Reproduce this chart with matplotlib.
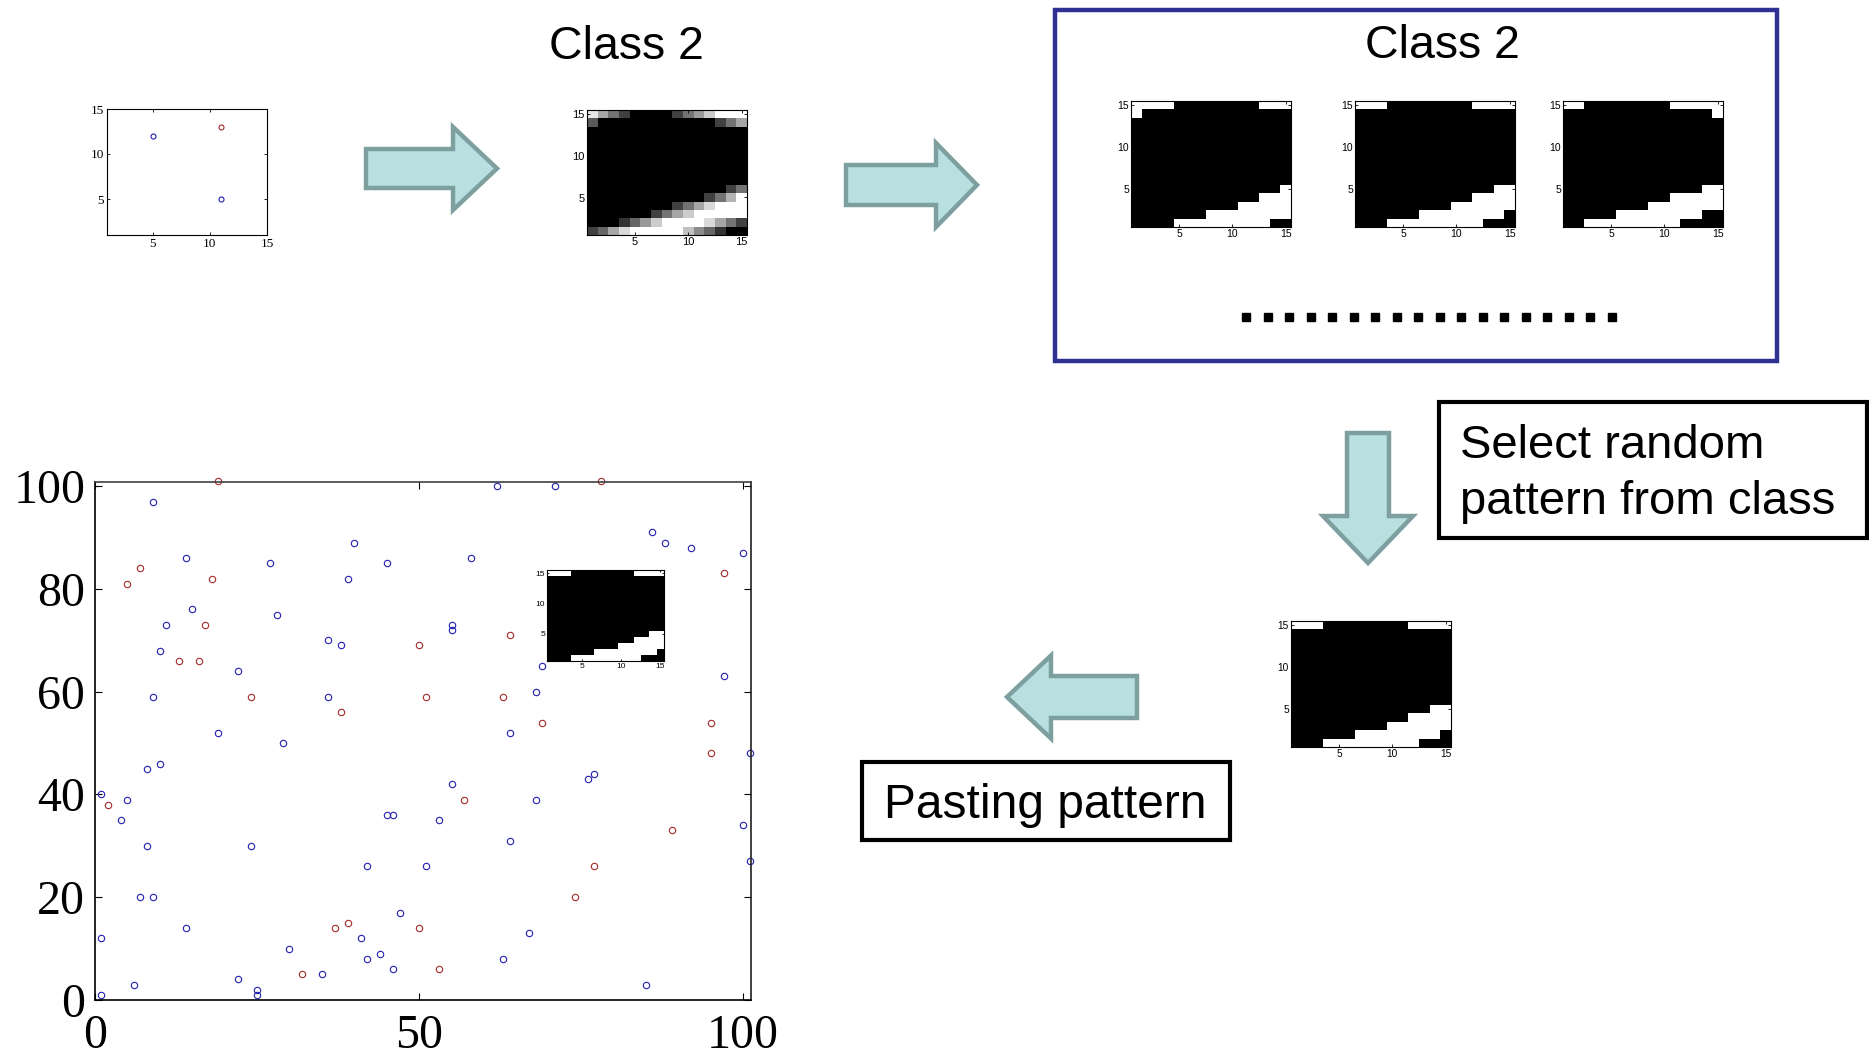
import numpy as np
import matplotlib
matplotlib.use("Agg")
import matplotlib.pyplot as plt
from matplotlib.patches import FancyArrow, Rectangle

W, H = 1869, 1056

# ---------------- data ----------------
# seed points for the small 15x15 grid
seed_blue_x = [5, 11]
seed_blue_y = [12, 5]
seed_red_x = [11]
seed_red_y = [13]

# points of the 100x100 canvas
blue_x = [9, 40, 14, 27, 45, 39, 15, 28, 11, 36, 38, 10, 22, 9, 36, 19, 29, 10, 8,
          62, 71, 86, 88, 92, 100, 58, 55, 55, 69, 97, 68, 64, 101,
          1, 5, 4, 8, 24, 45, 46, 42, 7, 9, 1, 14, 47, 41, 30, 44, 42, 46, 35, 22, 6, 1, 25, 25,
          76, 77, 55, 68, 53, 100, 64, 51, 101, 67, 63, 85]
blue_y = [97, 89, 86, 85, 85, 82, 76, 75, 73, 70, 69, 68, 64, 59, 59, 52, 50, 46, 45,
          100, 100, 91, 89, 88, 87, 86, 73, 72, 65, 63, 60, 52, 48,
          40, 39, 35, 30, 30, 36, 36, 26, 20, 20, 12, 14, 17, 12, 10, 9, 8, 6, 5, 4, 3, 1, 2, 1,
          43, 44, 42, 39, 35, 34, 31, 26, 27, 13, 8, 3]
red_x = [19, 7, 5, 18, 17, 13, 16, 24, 38,
         78, 97, 64, 50, 51, 63, 69, 95, 95,
         2, 37, 39, 32,
         57, 89, 77, 74, 50, 53]
red_y = [101, 84, 81, 82, 73, 66, 66, 59, 56,
         101, 83, 71, 69, 59, 59, 54, 54, 48,
         38, 14, 15, 5,
         39, 33, 26, 20, 14, 6]

grid_ticks = [5, 10, 15]
canvas_xticks = [0, 50, 100]
canvas_yticks = [0, 20, 40, 60, 80, 100]

# averaged class pattern (rows listed top to bottom)
class_mean = [
    [0.9, 0.65, 0.45, 0.25, 0, 0, 0, 0, 0.25, 0.45, 0.6, 0.8, 1, 1, 1],
    [0.35, 0, 0, 0, 0, 0, 0, 0, 0, 0, 0, 0, 0.25, 0.45, 0.65],
    [0] * 15, [0] * 15, [0] * 15, [0] * 15, [0] * 15, [0] * 15, [0] * 15,
    [0, 0, 0, 0, 0, 0, 0, 0, 0, 0, 0, 0, 0, 0.25, 0.45],
    [0, 0, 0, 0, 0, 0, 0, 0, 0, 0, 0, 0.25, 0.45, 0.7, 1],
    [0, 0, 0, 0, 0, 0, 0, 0, 0.25, 0.45, 0.65, 0.85, 1, 1, 1],
    [0, 0, 0, 0, 0, 0, 0.25, 0.45, 0.65, 0.8, 1, 1, 1, 1, 1],
    [0, 0, 0, 0.2, 0.4, 0.6, 0.8, 1, 1, 1, 1, 0.85, 0.65, 0.45, 0.25],
    [0.25, 0.4, 0.65, 0.85, 1, 1, 1, 1, 1, 0.75, 0.55, 0.4, 0.2, 0, 0],
]

# binary member patterns of the class (rows listed top to bottom)
pattern_a = ["111100000000111", "100000000000000"] + ["0" * 15] * 8 + [
    "000000000000001", "000000000000111", "000000000011111",
    "000000011111111", "000011111111100"]
pattern_b = ["111000000001111"] + ["0" * 15] * 9 + [
    "000000000000011", "000000000001111", "000000000111111",
    "000000111111110", "000111111111000"]
pattern_c = ["110000000011111", "000000000000001"] + ["0" * 15] * 8 + [
    "000000000000011", "000000000011111", "000000001111111",
    "000001111111100", "001111111110000"]


def to_img(rows):
    return np.array([[float(c) for c in r] for r in rows])


# ---------------- figure ----------------
fig = plt.figure(figsize=(W / 100, H / 100), dpi=100)
fig.patch.set_facecolor("white")


def px_axes(l, t, r, b):
    return fig.add_axes([l / W, 1 - b / H, (r - l) / W, (b - t) / H])


SANS = "Liberation Sans"
SERIF = "Liberation Serif"

# overlay for arrows, boxes and captions (pixel coordinates)
ov = fig.add_axes([0, 0, 1, 1])
ov.set_xlim(0, W)
ov.set_ylim(H, 0)
ov.axis("off")

arrow_fc = "#b8e0e1"
arrow_ec = "#7d9fa0"
arrow_kw = dict(length_includes_head=True, fc=arrow_fc, ec=arrow_ec, lw=3.2,
                joinstyle="miter")
ov.add_patch(FancyArrow(366, 168.5, 131, 0, width=39, head_width=83,
                        head_length=44, **arrow_kw))
ov.add_patch(FancyArrow(846, 185, 131, 0, width=40, head_width=84,
                        head_length=41, **arrow_kw))
ov.add_patch(FancyArrow(1368, 433, 0, 130, width=42, head_width=90,
                        head_length=47, **arrow_kw))
ov.add_patch(FancyArrow(1137, 697, -130, 0, width=42, head_width=83,
                        head_length=44, **arrow_kw))

# class box
ov.add_patch(Rectangle((1055, 9.5), 722, 351.5, fill=False, ec="#2e3192", lw=3.2))
ov.text(1442, 46, "Class 2", fontsize=33.5, family=SANS, ha="center", va="center")
ov.text(626, 47, "Class 2", fontsize=33.5, family=SANS, ha="center", va="center")
ov.plot(np.linspace(1246, 1612, 18), np.full(18, 317), ls="none", marker="s",
        ms=5.2, mfc="black", mec="black")

# caption boxes
ov.add_patch(Rectangle((1439, 402), 428, 136, fill=False, ec="black", lw=3))
ov.text(1460, 474, "Select random\npattern from class", fontsize=34, family=SANS,
        ha="left", va="center", linespacing=1.33)
ov.add_patch(Rectangle((862, 762), 368, 78, fill=False, ec="black", lw=3))
ov.text(1045, 805, "Pasting pattern", fontsize=34.5, family=SANS,
        ha="center", va="center")


def image_axes(box, img, fs, tick_len=2.0):
    ax = px_axes(*box)
    ax.imshow(img, cmap="gray", vmin=0, vmax=1, origin="upper",
              extent=(0.5, 15.5, 0.5, 15.5), interpolation="nearest", aspect="auto")
    ax.set_xlim(0.5, 15.5)
    ax.set_ylim(0.5, 15.5)
    ax.set_xticks(grid_ticks)
    ax.set_yticks(grid_ticks)
    ax.tick_params(direction="in", length=tick_len, width=0.6, labelsize=fs,
                   top=True, right=True, pad=1.5)
    for lab in ax.get_xticklabels() + ax.get_yticklabels():
        lab.set_family(SANS)
    for s in ax.spines.values():
        s.set_linewidth(0.8)
    return ax


# small seed scatter
ax0 = px_axes(107, 109, 267, 235)
ax0.plot(seed_blue_x, seed_blue_y, ls="none", marker="o", ms=3.6, mfc="none",
         mec="#2020b0", mew=0.8)
ax0.plot(seed_red_x, seed_red_y, ls="none", marker="o", ms=3.6, mfc="none",
         mec="#a52a2a", mew=0.8)
ax0.set_xlim(1, 15)
ax0.set_ylim(1, 15)
ax0.set_xticks(grid_ticks)
ax0.set_yticks(grid_ticks)
ax0.tick_params(direction="in", length=2.5, width=0.6, labelsize=9.5,
                top=True, right=True, pad=2)
for lab in ax0.get_xticklabels() + ax0.get_yticklabels():
    lab.set_family(SERIF)
for s in ax0.spines.values():
    s.set_linewidth(0.8)

# averaged class image and class members
image_axes((587, 110, 747, 235), np.array(class_mean), 8)
image_axes((1131, 101, 1291, 227), to_img(pattern_a), 7.5)
image_axes((1355, 101, 1515, 227), to_img(pattern_b), 7.5)
image_axes((1563, 101, 1723, 227), to_img(pattern_c), 7.5)
image_axes((1291, 621, 1451, 747), to_img(pattern_b), 7.3)

# the 100x100 canvas
ax = px_axes(95, 482, 751, 1000)
ax.plot(blue_x, blue_y, ls="none", marker="o", ms=4.6, mfc="none",
        mec="#2020b0", mew=0.8, clip_on=False)
ax.plot(red_x, red_y, ls="none", marker="o", ms=4.6, mfc="none",
        mec="#a52a2a", mew=0.8, clip_on=False)
ax.set_xlim(0.3, 101.2)
ax.set_ylim(0, 100.8)
ax.set_xticks(canvas_xticks)
ax.set_yticks(canvas_yticks)
ax.tick_params(direction="in", length=5, width=0.8, labelsize=34.5,
               top=True, right=True)
ax.tick_params(axis="x", pad=10)
ax.tick_params(axis="y", pad=7)
for lab in ax.get_xticklabels() + ax.get_yticklabels():
    lab.set_family(SERIF)
for s in ax.spines.values():
    s.set_linewidth(1.2)
ax.spines["top"].set_color("#404040")
ax.spines["right"].set_color("#202020")

# pasted pattern inside the canvas
image_axes((547, 570, 664, 661), to_img(pattern_b), 6, tick_len=1.5)

fig.savefig("out.png", dpi=100, facecolor="white")
